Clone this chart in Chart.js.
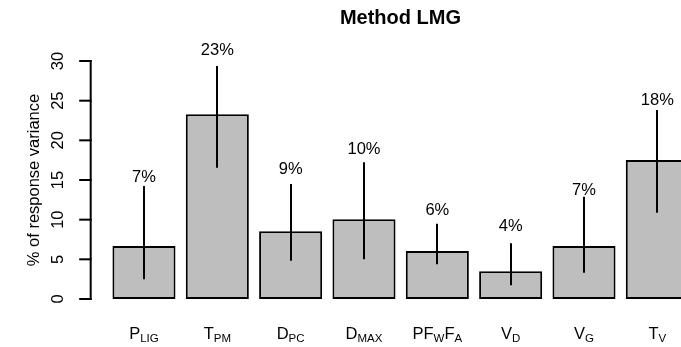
<!DOCTYPE html>
<html><head><meta charset="utf-8">
<script src="https://cdn.jsdelivr.net/npm/chart.js@4"></script>
<style>html,body{margin:0;padding:0;overflow:hidden;background:#fff;width:681px;height:347px}canvas{display:block}</style>
</head><body>
<canvas id="c" width="720" height="347"></canvas>
<script>
// ---- data ----
const categories = ["P_LIG", "T_PM", "D_PC", "D_MAX", "PF_W F_A", "V_D", "V_G", "T_V"];
const labelParts = [[["P","LIG"]], [["T","PM"]], [["D","PC"]], [["D","MAX"]], [["PF","W"],["F","A"]], [["V","D"]], [["V","G"]], [["T","V"]]];
const shares = [6.68, 23.28, 8.53, 10.04, 6.05, 3.5, 6.68, 17.52];
const lowerCI = [2.48, 16.55, 4.83, 5.0, 4.37, 1.72, 3.32, 10.88];
const upperCI = [14.24, 29.37, 14.5, 17.23, 9.49, 7.02, 12.9, 23.82];
const percentLabels = ["7%", "23%", "9%", "10%", "6%", "4%", "7%", "18%"];
const labelAt = [15.44, 31.5, 16.48, 19.0, 11.35, 9.33, 13.87, 25.17];
const yTicks = [0, 5, 10, 15, 20, 25, 30];
const titleText = "Method LMG";
const yTitle = "% of response variance";

const FONT = '"Liberation Sans", Arial, Helvetica, sans-serif';
const BASE = 16.5, SUB = 11.5;

const overlay = {
  id: 'overlay',
  afterDatasetsDraw(chart) {
    const ctx = chart.ctx, xs = chart.scales.x, ys = chart.scales.y, area = chart.chartArea;
    const catW = (area.right - area.left) / categories.length;
    const plotLeft = area.left - 0.232 * catW;
    const plotRight = area.right + 0.227 * catW;
    ctx.save();
    ctx.strokeStyle = '#000'; ctx.fillStyle = '#000'; ctx.lineWidth = 2; ctx.lineCap = 'butt';
    // error bars
    shares.forEach((v, i) => {
      const x = Math.round(xs.getPixelForValue(i));
      ctx.beginPath();
      ctx.moveTo(x, ys.getPixelForValue(lowerCI[i]));
      ctx.lineTo(x, ys.getPixelForValue(upperCI[i]));
      ctx.stroke();
    });
    // percentage labels
    ctx.font = BASE + 'px ' + FONT;
    ctx.textAlign = 'center'; ctx.textBaseline = 'alphabetic';
    percentLabels.forEach((t, i) => {
      ctx.fillText(t, xs.getPixelForValue(i), ys.getPixelForValue(labelAt[i]) + 5.9);
    });
    // y axis
    const ax = plotLeft + 0.4;
    const y0 = ys.getPixelForValue(yTicks[0]), y1 = ys.getPixelForValue(yTicks[yTicks.length - 1]);
    ctx.beginPath(); ctx.moveTo(ax, y0 + 1); ctx.lineTo(ax, y1 - 1); ctx.stroke();
    yTicks.forEach(t => {
      const y = ys.getPixelForValue(t);
      ctx.beginPath(); ctx.moveTo(ax - 11.5, y); ctx.lineTo(ax + 1, y); ctx.stroke();
      ctx.save();
      ctx.translate(ax - 27.2, y);
      ctx.rotate(-Math.PI / 2);
      ctx.textAlign = 'center';
      ctx.fillText(String(t), 0, 0);
      ctx.restore();
    });
    // y title
    ctx.save();
    ctx.translate(38.5, (area.top + area.bottom) / 2);
    ctx.rotate(-Math.PI / 2);
    ctx.textAlign = 'center';
    ctx.fillText(yTitle, 0, 0);
    ctx.restore();
    // main title
    ctx.font = 'bold 20px ' + FONT;
    ctx.textAlign = 'center';
    ctx.fillText(titleText, (plotLeft + plotRight) / 2, 24.3);
    // x labels with subscripts
    ctx.textAlign = 'left';
    labelParts.forEach((parts, i) => {
      let total = 0;
      parts.forEach(([m, s]) => {
        ctx.font = BASE + 'px ' + FONT; total += ctx.measureText(m).width;
        ctx.font = SUB + 'px ' + FONT; total += ctx.measureText(s).width;
      });
      let x = xs.getPixelForValue(i) - total / 2;
      parts.forEach(([m, s]) => {
        ctx.font = BASE + 'px ' + FONT; ctx.fillText(m, x, 339.3); x += ctx.measureText(m).width;
        ctx.font = SUB + 'px ' + FONT; ctx.fillText(s, x, 341.8); x += ctx.measureText(s).width;
      });
    });
    ctx.restore();
  }
};

new Chart(document.getElementById('c'), {
  type: 'bar',
  data: {
    labels: categories,
    datasets: [{
      data: shares,
      backgroundColor: '#bebebe',
      borderColor: '#000',
      borderWidth: 2,
      borderSkipped: false,
      barPercentage: 0.86,
      categoryPercentage: 1
    }]
  },
  options: {
    responsive: false,
    animation: false,
    devicePixelRatio: 1,
    layout: { padding: { left: 107.3, right: 26, top: 51.5, bottom: 38.5 } },
    plugins: { legend: { display: false }, title: { display: false }, tooltip: { enabled: false } },
    scales: {
      x: { display: false, offset: true },
      y: { display: false, min: -1.2, max: 31.2 }
    }
  },
  plugins: [overlay]
});
</script>
</body></html>
